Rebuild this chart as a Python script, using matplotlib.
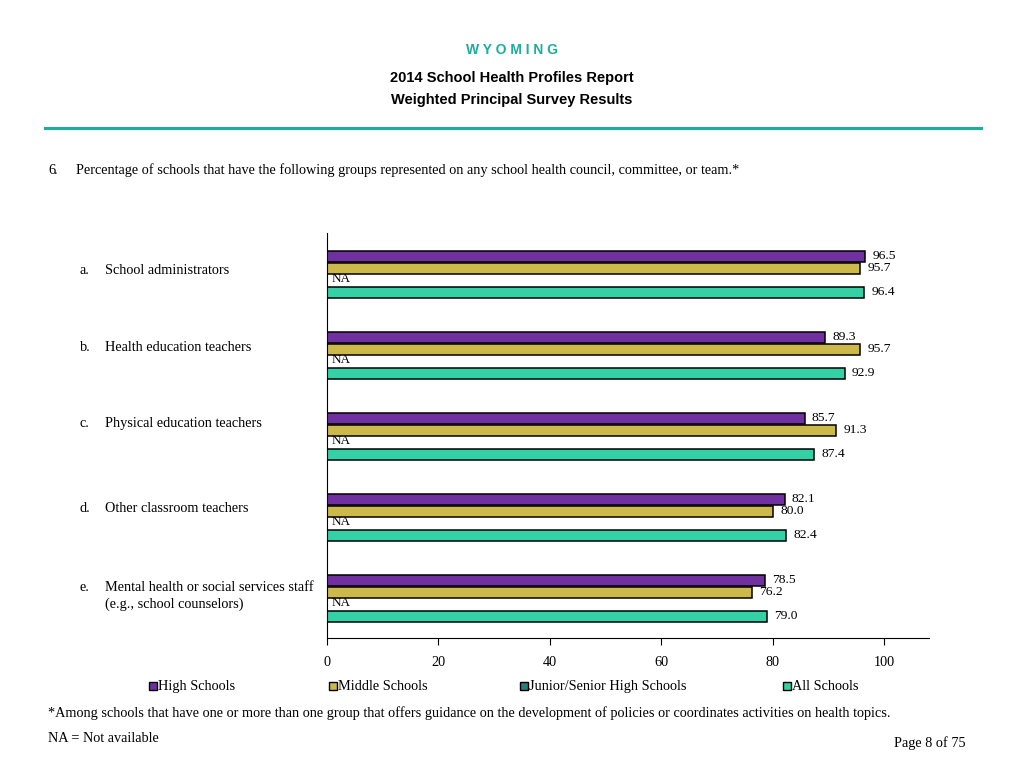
import numpy as np
import matplotlib
matplotlib.use('Agg')
import matplotlib.pyplot as plt
from matplotlib.patches import Rectangle

# Datos do grafico
letters = ['a.', 'b.', 'c.', 'd.', 'e.']
categories = ['School administrators',
              'Health education teachers',
              'Physical education teachers',
              'Other classroom teachers',
              'Mental health or social services staff\n(e.g., school counselors)']
series_names = ['High Schools', 'Middle Schools', 'Junior/Senior High Schools', 'All Schools']
high_schools = [96.5, 89.3, 85.7, 82.1, 78.5]
middle_schools = [95.7, 95.7, 91.3, 80.0, 76.2]
junior_senior = [None, None, None, None, None]  # NA
all_schools = [96.4, 92.9, 87.4, 82.4, 79.0]
x_ticks = [0, 20, 40, 60, 80, 100]

colors = ['#7030A0', '#CDB84A', '#2A7F7C', '#33D1A5']
teal = '#1AAE9B'
serif = 'Liberation Serif'
sans = 'Liberation Sans'
fs = 10.3

W, H = 1024, 768
fig = plt.figure(figsize=(W / 100, H / 100), dpi=100)

def fx(px):
    return px / W

def fy(py):
    return 1 - py / H

# Cabecalho
fig.text(0.5, fy(50), 'W Y O M I N G', ha='center', va='center', color=teal,
         fontsize=10, fontweight='bold', family=sans)
fig.text(0.5, fy(78), '2014 School Health Profiles Report', ha='center', va='center',
         fontsize=10.5, fontweight='bold', family=sans)
fig.text(0.5, fy(100), 'Weighted Principal Survey Results', ha='center', va='center',
         fontsize=10.5, fontweight='bold', family=sans)
fig.add_artist(plt.Line2D([fx(45), fx(981)], [fy(128), fy(128)], color=teal, lw=2.2))

fig.text(fx(48), fy(174), '6', ha='left', va='baseline', fontsize=fs, family=serif)
fig.text(fx(54), fy(174), '.', ha='left', va='baseline', fontsize=fs, family=serif)
fig.text(fx(76), fy(174),
         'Percentage of schools that have the following groups represented on any school health council, committee, or team.*',
         ha='left', va='baseline', fontsize=fs, family=serif)

# Eixo
ax = fig.add_axes([fx(327), fy(638), fx(929) - fx(327), fy(233) - fy(638)])
series = [high_schools, middle_schools, junior_senior, all_schools]
group_step = 6.75
for g in range(len(categories)):
    for k, vals in enumerate(series):
        y = g * group_step + k
        v = vals[g]
        if v is None:
            ax.text(0.9, y - 0.1, 'NA', ha='left', va='center', fontsize=9.5, family=serif)
            continue
        ax.barh(y, v, height=0.92, color=colors[k], edgecolor='black', linewidth=1.1)
        ax.text(v + 1.3, y, f'{v:.1f}', ha='left', va='center', fontsize=9.7, family=serif)

ax.set_xlim(0, 108)
ax.set_ylim(31.83, -1.92)
ax.spines['top'].set_visible(False)
ax.spines['right'].set_visible(False)
ax.set_yticks([])
ax.set_xticks(x_ticks)
ax.set_xticklabels([str(t) for t in x_ticks], family=serif, fontsize=fs)
ax.tick_params(axis='x', direction='out', length=5, pad=8)

# Rotulos das categorias
label_y = [274, 351, 427, 512, 591]
for lt, cat, ly in zip(letters, categories, label_y):
    fig.text(fx(80), fy(ly), lt, ha='left', va='baseline', fontsize=fs, family=serif)
    lines = cat.split('\n')
    for i, line in enumerate(lines):
        fig.text(fx(105), fy(ly + i * 17), line, ha='left', va='baseline', fontsize=fs, family=serif)

# Legenda
leg_x = [149, 329, 520, 783]
for name, c, lx in zip(series_names, colors, leg_x):
    fig.add_artist(Rectangle((fx(lx), fy(690)), fx(8), fy(682) - fy(690),
                             facecolor=c, edgecolor='black', linewidth=1))
    fig.text(fx(lx + 9), fy(690), name, ha='left', va='baseline', fontsize=fs, family=serif)

# Rodape
fig.text(fx(48), fy(717),
         '*Among schools that have one or more than one group that offers guidance on the development of policies or coordinates activities on health topics.',
         ha='left', va='baseline', fontsize=fs, family=serif)
fig.text(fx(48), fy(742), 'NA = Not available', ha='left', va='baseline', fontsize=fs, family=serif)
fig.text(fx(965), fy(747), 'Page 8 of 75', ha='right', va='baseline', fontsize=fs, family=serif)

fig.savefig('out.png', dpi=100)
